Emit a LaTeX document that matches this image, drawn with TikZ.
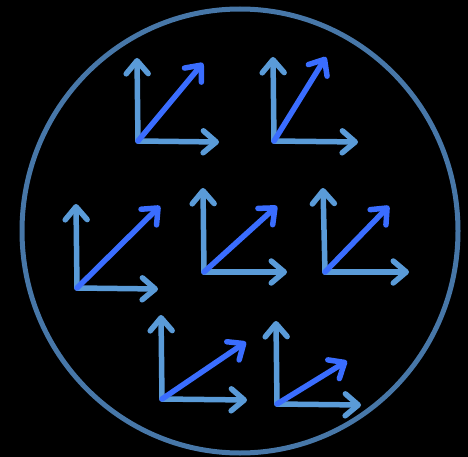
\documentclass[tikz,border=0pt]{standalone}
\usepackage{tikz}
\usetikzlibrary{arrows.meta}
\definecolor{ringblue}{HTML}{4777A8}
\definecolor{axisblue}{HTML}{5A9BD8}
\definecolor{diagblue}{HTML}{3A6DFF}

\begin{document}
\begin{tikzpicture}[x=1pt, y=-1pt,
    axis/.style={-{Straight Barb[length=13pt, width=22pt, round]}, line width=5.5pt, line cap=round, line join=round, color=axisblue},
    diag/.style={axis, color=diagblue},
    ring/.style={draw=ringblue, line width=5pt}
]
\fill[black] (0,0) rectangle (468,457);
\useasboundingbox (0,0) rectangle (468,457);

\draw[ring] (240,231) ellipse [x radius=218, y radius=222];

% frame origins
\coordinate (o1) at (138,141);
\coordinate (o2) at (274,141);
\coordinate (o3) at (77,288);
\coordinate (o4) at (204,272);
\coordinate (o5) at (325,272);
\coordinate (o6) at (162,399);
\coordinate (o7) at (277,404);

% top row
\draw[axis] (o1) -- (137,58);
\draw[axis] (o1) -- (219,142);
\draw[diag] (o1) -- (203,63);

\draw[axis] (o2) -- (273,57);
\draw[axis] (o2) -- (358,142);
\draw[diag] (o2) -- (326,57);

% middle row
\draw[axis] (o3) -- (76,204);
\draw[axis] (o3) -- (158,289);
\draw[diag] (o3) -- (160,206);

\draw[axis] (o4) -- (203,188);
\draw[axis] (o4) -- (287,272);
\draw[diag] (o4) -- (277,206);

\draw[axis] (o5) -- (323,188);
\draw[axis] (o5) -- (409,272);
\draw[diag] (o5) -- (389,206);

% bottom row
\draw[axis] (o6) -- (161,315);
\draw[axis] (o6) -- (247,400);
\draw[diag] (o6) -- (246,342);

\draw[axis] (o7) -- (276,321);
\draw[axis] (o7) -- (361,405);
\draw[diag] (o7) -- (347,361);
\end{tikzpicture}
\end{document}
